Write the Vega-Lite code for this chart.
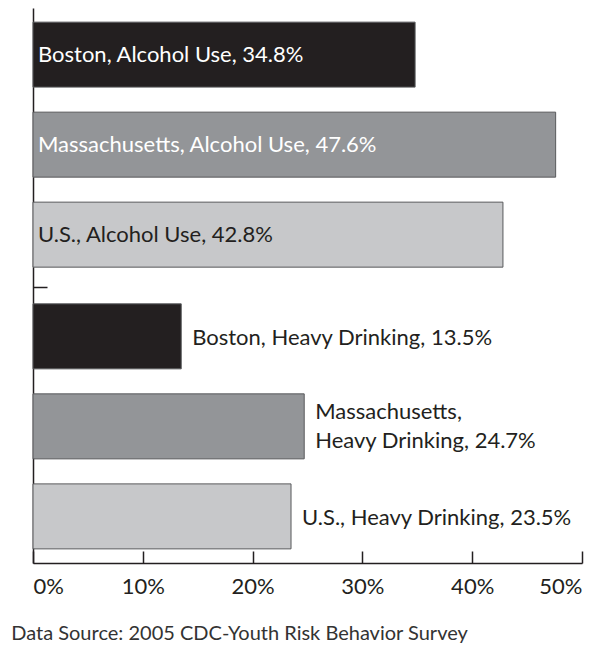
{
  "$schema": "https://vega.github.io/schema/vega-lite/v6.json",
  "width": 549,
  "height": 555,
  "autosize": "none",
  "padding": {"left": 33, "top": 8, "right": 31, "bottom": 85},
  "background": "white",
  "config": {"view": {"stroke": null}, "font": "Lato"},
  "title": {
    "text": "Data Source: 2005 CDC-Youth Risk Behavior Survey",
    "orient": "bottom",
    "anchor": "start",
    "dx": -21,
    "offset": 27,
    "fontSize": 20,
    "fontWeight": "normal",
    "font": "Lato",
    "color": "#333333"
  },
  "data": {
    "values": [
      {"region": "Boston", "measure": "Alcohol Use", "value": 34.8, "label": "Boston, Alcohol Use, 34.8%"},
      {"region": "Massachusetts", "measure": "Alcohol Use", "value": 47.6, "label": "Massachusetts, Alcohol Use, 47.6%"},
      {"region": "U.S.", "measure": "Alcohol Use", "value": 42.8, "label": "U.S., Alcohol Use, 42.8%"},
      {"region": "Boston", "measure": "Heavy Drinking", "value": 13.5, "label": "Boston, Heavy Drinking, 13.5%"},
      {"region": "Massachusetts", "measure": "Heavy Drinking", "value": 24.7, "label": "Massachusetts,\nHeavy Drinking, 24.7%"},
      {"region": "U.S.", "measure": "Heavy Drinking", "value": 23.5, "label": "U.S., Heavy Drinking, 23.5%"}
    ]
  },
  "encoding": {
    "y": {
      "field": "measure",
      "type": "nominal",
      "scale": {"domain": ["Alcohol Use", "Heavy Drinking"], "paddingInner": 0.03, "paddingOuter": 0},
      "axis": {
        "title": null,
        "labels": false,
        "values": ["Alcohol Use"],
        "tickOffset": 142.4,
        "tickSize": -14,
        "tickWidth": 1.5,
        "tickColor": "#231f20",
        "domainColor": "#231f20",
        "domainWidth": 1.5
      }
    },
    "yOffset": {
      "field": "region",
      "type": "nominal",
      "scale": {"domain": ["Boston", "Massachusetts", "U.S."], "paddingInner": 0.278, "paddingOuter": 0.157}
    }
  },
  "layer": [
    {
      "mark": {"type": "bar", "stroke": "#58595b", "strokeWidth": 1},
      "encoding": {
        "x": {
          "field": "value",
          "type": "quantitative",
          "scale": {"domain": [0, 50], "nice": false},
          "axis": {
            "title": null,
            "values": [0, 10, 20, 30, 40, 50],
            "labelExpr": "datum.value + '%'",
            "grid": false,
            "tickSize": -12,
            "tickWidth": 1.5,
            "tickColor": "#231f20",
            "domainColor": "#231f20",
            "domainWidth": 1.5,
            "labelFontSize": 22,
            "labelColor": "#231f20",
            "labelPadding": 25,
            "labelFont": "Lato"
          }
        },
        "color": {
          "field": "region",
          "type": "nominal",
          "scale": {"domain": ["Boston", "Massachusetts", "U.S."], "range": ["#231f20", "#939598", "#c7c8ca"]},
          "legend": null
        }
      }
    },
    {
      "transform": [{"filter": "datum.measure === 'Alcohol Use'"}],
      "mark": {"type": "text", "align": "left", "baseline": "middle", "dx": 5, "fontSize": 22, "font": "Lato"},
      "encoding": {
        "x": {"datum": 0, "type": "quantitative"},
        "text": {"field": "label"},
        "color": {"condition": {"test": "datum.region === 'U.S.'", "value": "#231f20"}, "value": "#ffffff"}
      }
    },
    {
      "transform": [{"filter": "datum.measure === 'Heavy Drinking' && datum.region !== 'Massachusetts'"}],
      "mark": {"type": "text", "align": "left", "baseline": "middle", "dx": 11, "dy": 2, "fontSize": 22, "font": "Lato", "color": "#231f20"},
      "encoding": {
        "x": {"field": "value", "type": "quantitative"},
        "text": {"field": "label"}
      }
    },
    {
      "transform": [{"filter": "datum.measure === 'Heavy Drinking' && datum.region === 'Massachusetts'"}],
      "mark": {"type": "text", "align": "left", "baseline": "middle", "dx": 11, "dy": -14, "fontSize": 22, "font": "Lato", "lineBreak": "\n", "lineHeight": 29, "color": "#231f20"},
      "encoding": {
        "x": {"field": "value", "type": "quantitative"},
        "text": {"field": "label"}
      }
    }
  ]
}
